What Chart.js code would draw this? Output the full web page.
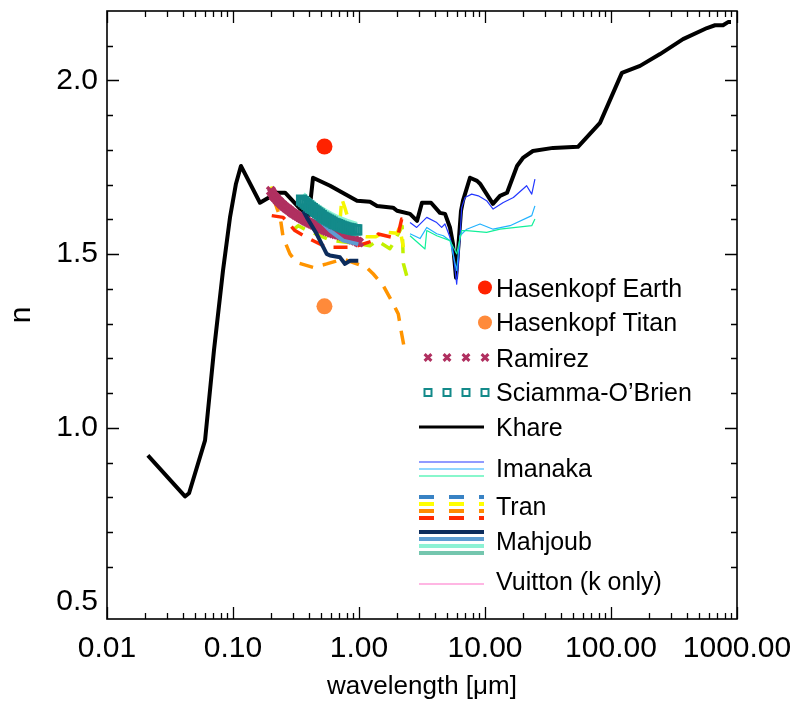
<!DOCTYPE html>
<html>
<head>
<meta charset="utf-8">
<script src="https://cdn.jsdelivr.net/npm/chart.js@4.4.1/dist/chart.umd.min.js"></script>
<style>
  html, body { margin: 0; padding: 0; background: #fff; }
  canvas { display: block; }
</style>
</head>
<body>
<canvas id="c" width="799" height="707"></canvas>
<script>
// ---- axis ticks ----
const xTicks = [0.01, 0.1, 1, 10, 100, 1000];
const xTickLabels = ['0.01', '0.10', '1.00', '10.00', '100.00', '1000.00'];
const yTicks = [0.5, 1.0, 1.5, 2.0];
const yTickLabels = ['0.5', '1.0', '1.5', '2.0'];

// ---- Khare ----
const khareWl = [0.0211,0.0416,0.0448,0.060,0.0706,0.0833,0.0946,0.1056,0.1156,0.1637,0.2235,0.259,0.340,0.401,0.4316,0.589,0.964,1.222,1.39,1.863,2.004,2.54,2.89,3.16,3.73,4.39,4.82,5.28,5.57,5.89,6.11,6.45,6.69,7.60,8.65,9.13,11.56,13.15,14.96,17.96,20.0,24.0,34.7,54.7,81.8,122,170,245,373,578,669,774,849,896];
const khareN  = [0.921,0.803,0.812,0.964,1.223,1.453,1.605,1.703,1.754,1.648,1.677,1.677,1.631,1.613,1.720,1.697,1.654,1.651,1.639,1.634,1.625,1.616,1.596,1.648,1.648,1.619,1.616,1.576,1.530,1.432,1.510,1.625,1.654,1.720,1.711,1.703,1.645,1.668,1.677,1.754,1.777,1.797,1.806,1.809,1.878,2.022,2.042,2.076,2.119,2.151,2.159,2.159,2.168,2.168];

// ---- Imanaka (three samples) ----
const imaBlueWl = [2.54,2.87,3.45,4.14,4.53,4.81,5.28,5.57,5.96,6.25,6.53,6.94,7.84,8.85,10.3,11.6,13.97,16.8,21.4,23.5,24.9];
const imaBlueN  = [1.591,1.577,1.606,1.591,1.577,1.587,1.548,1.510,1.414,1.510,1.634,1.663,1.673,1.668,1.654,1.630,1.649,1.663,1.697,1.673,1.716];
const imaSkyWl  = [2.54,3.05,3.45,4.14,4.67,5.28,5.96,6.33,7.16,9.13,11.6,15.8,23.5,24.9];
const imaSkyN   = [1.559,1.545,1.577,1.559,1.553,1.539,1.453,1.553,1.572,1.587,1.572,1.582,1.611,1.639];
const imaGreenWl = [2.54,3.34,3.45,4.14,5.28,5.96,6.53,7.16,10.3,13.15,23.5,24.9];
const imaGreenN  = [1.553,1.515,1.568,1.553,1.539,1.501,1.568,1.568,1.563,1.572,1.582,1.601];

// ---- Tran (dashed) ----
const tranRedWl = [0.203,0.25,0.31,0.385,0.55,0.625,0.90,1.30,1.42,1.87,2.05,2.18,2.39];
const tranRedN  = [1.611,1.606,1.568,1.548,1.520,1.520,1.520,1.539,1.558,1.548,1.558,1.601,1.587];
const tranOrangeWl = [0.21,0.237,0.25,0.283,0.32,0.434,0.554,0.75,0.90,1.15,1.30,1.56,1.87,2.05,2.18,2.32];
const tranOrangeN  = [1.660,1.606,1.548,1.501,1.476,1.462,1.472,1.486,1.476,1.462,1.443,1.409,1.357,1.328,1.271,1.218];
const tranYellowWl = [0.200,0.215,0.30,0.45,0.60,0.70,0.73,0.77,0.90,1.15,1.35,1.50,1.70,2.00,2.10,2.25];
const tranYellowN  = [1.695,1.660,1.615,1.585,1.565,1.575,1.660,1.635,1.555,1.550,1.550,1.558,1.563,1.560,1.577,1.520];
const tranLimeWl = [0.30,0.33,0.39,0.60,1.00,1.22,1.39,1.76,1.86,2.20,2.25,2.39];
const tranLimeN  = [1.570,1.582,1.568,1.540,1.530,1.524,1.539,1.516,1.530,1.580,1.473,1.438];

// ---- Mahjoub ----
const mahNavyWl = [0.361,0.385,0.462,0.554,0.589,0.707,0.774,0.848,0.987];
const mahNavyN  = [1.625,1.606,1.558,1.501,1.496,1.491,1.472,1.481,1.481];
const mahSteelWl = [0.373,0.462,0.589,0.750,0.987];
const mahSteelN  = [1.649,1.606,1.568,1.539,1.529];
const mahAquaWl = [0.36,0.40,0.46,0.53,0.60,0.70,0.80,0.96];
const mahAquaN  = [1.672,1.657,1.640,1.626,1.615,1.603,1.595,1.586];
const mahMedWl = [0.36,0.40,0.46,0.53,0.60,0.70,0.80,0.96];
const mahMedN  = [1.640,1.626,1.610,1.596,1.585,1.574,1.566,1.558];

// ---- Ramirez ----
const ramirezWl = [0.200,0.205,0.210,0.215,0.220,0.226,0.232,0.238,0.245,0.252,0.260,0.268,0.276,0.285,0.294,0.304,0.314,0.325,0.336,0.348,0.360,0.373,0.387,0.401,0.416,0.432,0.449,0.467,0.486,0.506,0.527,0.549,0.572,0.597,0.623,0.650,0.679,0.709,0.741,0.775,0.811,0.849,0.889,0.931,0.975,1.000];
const ramirezN  = [1.682,1.676,1.668,1.664,1.660,1.655,1.651,1.647,1.643,1.639,1.635,1.631,1.628,1.624,1.620,1.617,1.613,1.610,1.607,1.603,1.600,1.597,1.594,1.591,1.588,1.585,1.582,1.579,1.576,1.573,1.570,1.567,1.565,1.562,1.560,1.558,1.556,1.554,1.552,1.550,1.548,1.545,1.542,1.539,1.536,1.534];

// ---- Sciamma-O'Brien ----
const sciammaWl = [0.350,0.362,0.374,0.386,0.399,0.412,0.426,0.440,0.455,0.470,0.486,0.502,0.519,0.536,0.554,0.573,0.592,0.612,0.633,0.654,0.676,0.699,0.722,0.747,0.772,0.798,0.825,0.853,0.881,0.911,0.942,0.960];
const sciammaN  = [1.656,1.651,1.647,1.643,1.639,1.635,1.631,1.627,1.623,1.619,1.615,1.611,1.607,1.604,1.601,1.598,1.595,1.592,1.589,1.587,1.585,1.583,1.581,1.579,1.577,1.575,1.574,1.573,1.572,1.571,1.570,1.570];

// ---- Hasenkopf ----
const hasenkopfWl = [0.532];
const hasenkopfEarthN = [1.81];
const hasenkopfTitanN = [1.35];

// ---- legend entries ----
const legendNames = ['Hasenkopf Earth', 'Hasenkopf Titan', 'Ramirez', 'Sciamma-O\u2019Brien', 'Khare', 'Imanaka', 'Tran', 'Mahjoub', 'Vuitton (k only)'];

const FONT = '"Liberation Sans", Arial, Helvetica, sans-serif';
const pts = (xs, ys) => xs.map((x, i) => ({ x: x, y: ys[i] }));

const line = (xs, ys, color, width, order, dash) => ({
  data: pts(xs, ys), showLine: true, borderColor: color, borderWidth: width,
  pointRadius: 0, fill: false, tension: 0, borderDash: dash || [], order: order,
  borderJoinStyle: 'round', borderCapStyle: 'butt'
});

const datasets = [
  line(khareWl, khareN, '#000000', 4, 90),
  line(imaBlueWl, imaBlueN, '#2438ff', 1.2, 80),
  line(imaSkyWl, imaSkyN, '#22b2ff', 1.2, 79),
  line(imaGreenWl, imaGreenN, '#12f09a', 1.2, 78),
  line(tranLimeWl, tranLimeN, '#c2f000', 3.5, 70, [14, 10]),
  line(tranYellowWl, tranYellowN, '#f6f600', 3.5, 69, [14, 10]),
  line(tranOrangeWl, tranOrangeN, '#ff9400', 3.5, 68, [14, 10]),
  line(tranRedWl, tranRedN, '#ff2a00', 3.5, 67, [14, 10]),
  {
    data: pts(ramirezWl, ramirezN), showLine: false, pointStyle: 'crossRot',
    pointRadius: 5.5, borderWidth: 3.5, borderColor: '#b03060', backgroundColor: '#b03060', order: 60
  },
  line(mahMedWl, mahMedN, '#74c6ae', 5, 50),
  line(mahAquaWl, mahAquaN, '#8cf2d4', 5, 49),
  line(mahSteelWl, mahSteelN, '#5d9dd2', 4, 48),
  line(mahNavyWl, mahNavyN, '#0c2c5c', 4, 47),
  {
    data: pts(sciammaWl, sciammaN), showLine: false, pointStyle: 'rect',
    pointRadius: 6.4, borderWidth: 2.2, borderColor: '#138a8a', backgroundColor: 'rgba(0,0,0,0)', order: 40
  },
  {
    data: pts(hasenkopfWl, hasenkopfEarthN), showLine: false, pointStyle: 'circle',
    pointRadius: 8, borderWidth: 0, backgroundColor: '#ff2200', order: 10
  },
  {
    data: pts(hasenkopfWl, hasenkopfTitanN), showLine: false, pointStyle: 'circle',
    pointRadius: 8, borderWidth: 0, backgroundColor: '#ff8a3a', order: 11
  }
];

// frame with inward ticks on all four sides
const framePlugin = {
  id: 'frameTicks',
  afterDraw(chart) {
    const c = chart.ctx, a = chart.chartArea;
    const xs = chart.scales.x, ys = chart.scales.y;
    c.save();
    c.strokeStyle = '#000';
    c.lineWidth = 1.6;
    c.strokeRect(a.left, a.top, a.right - a.left, a.bottom - a.top);
    c.lineWidth = 1.3;
    c.beginPath();
    for (let d = -2; d <= 3; d++) {
      for (let k = 1; k <= 9; k++) {
        const v = k * Math.pow(10, d);
        if (v > 1000.0001) break;
        const px = Math.round(xs.getPixelForValue(v)) + 0.5;
        const len = k === 1 ? 12 : 6;
        c.moveTo(px, a.bottom); c.lineTo(px, a.bottom - len);
        c.moveTo(px, a.top); c.lineTo(px, a.top + len);
      }
    }
    for (let i = 6; i <= 21; i++) {
      const v = i / 10;
      const py = Math.round(ys.getPixelForValue(v)) + 0.5;
      const len = (i % 5 === 0) ? 12 : 6;
      c.moveTo(a.left, py); c.lineTo(a.left + len, py);
      c.moveTo(a.right, py); c.lineTo(a.right - len, py);
    }
    c.stroke();
    c.restore();
  }
};

// key drawn inside the plot area
const keyPlugin = {
  id: 'keyBox',
  afterDraw(chart) {
    const c = chart.ctx;
    const x0 = 419, x1 = 484, tx = 496;
    const bases = [297, 331, 367, 401, 436, 477, 515, 550, 590];
    c.save();
    c.fillStyle = '#000';
    c.font = '25px ' + FONT;
    c.textAlign = 'left';
    c.textBaseline = 'alphabetic';
    legendNames.forEach((t, i) => c.fillText(t, tx, bases[i]));

    // Hasenkopf dots
    [['#ff2200', 287.5], ['#ff8a3a', 322.5]].forEach(([col, y]) => {
      c.fillStyle = col; c.beginPath(); c.arc(485, y, 7, 0, Math.PI * 2); c.fill();
    });
    // Ramirez crosses
    c.strokeStyle = '#b03060'; c.lineWidth = 3;
    [428, 447, 466, 485].forEach(x => {
      const y = 357.5, r = 3.4;
      c.beginPath();
      c.moveTo(x - r, y - r); c.lineTo(x + r, y + r);
      c.moveTo(x + r, y - r); c.lineTo(x - r, y + r);
      c.stroke();
    });
    // Sciamma squares
    c.strokeStyle = '#138a8a'; c.lineWidth = 2;
    [428, 447, 466, 485].forEach(x => c.strokeRect(x - 3.5, 392.5 - 3.5, 7, 7));

    const seg = (y, col, w, dash) => {
      c.save();
      c.strokeStyle = col; c.lineWidth = w; c.setLineDash(dash || []);
      c.beginPath(); c.moveTo(x0, y); c.lineTo(x1, y); c.stroke();
      c.restore();
    };
    seg(427, '#000000', 3);
    seg(462, '#2438ff', 1.2); seg(469, '#22b2ff', 1.2); seg(476, '#12f09a', 1.2);
    seg(497, '#3882c4', 4, [15, 15]); seg(504, '#ffff00', 4, [15, 15]);
    seg(511, '#ff8c00', 4, [15, 15]); seg(518, '#ff2a00', 4, [15, 15]);
    seg(532, '#0c2c5c', 4); seg(539, '#5d9dd2', 4); seg(546, '#8cf2d4', 4); seg(553, '#74c6ae', 4);
    seg(584, '#ff6ec8', 1.2);
    c.restore();
  }
};

new Chart(document.getElementById('c'), {
  type: 'scatter',
  data: { datasets: datasets },
  options: {
    responsive: false,
    animation: false,
    devicePixelRatio: 1,
    layout: { padding: { left: 0, right: 62, top: 11, bottom: 0 } },
    plugins: { legend: { display: false }, tooltip: { enabled: false } },
    scales: {
      x: {
        type: 'logarithmic', min: 0.01, max: 1000, position: 'bottom',
        afterBuildTicks: s => { s.ticks = xTicks.map(v => ({ value: v })); },
        afterFit: s => { s.height = 88; s.paddingLeft = 0; s.paddingRight = 0; },
        grid: { display: false, drawTicks: false },
        border: { display: false },
        ticks: {
          autoSkip: false, maxRotation: 0, minRotation: 0, padding: 12, color: '#000',
          font: { family: FONT, size: 30 },
          callback: (v, i) => xTickLabels[i]
        },
        title: {
          display: true, text: 'wavelength [\u03bcm]', color: '#000',
          font: { family: FONT, size: 26, lineHeight: 1.2 }, padding: { top: 0, bottom: 5 }
        }
      },
      y: {
        type: 'linear', min: 0.45, max: 2.2, position: 'left',
        afterBuildTicks: s => { s.ticks = yTicks.map(v => ({ value: v })); },
        afterFit: s => { s.width = 107; s.paddingTop = 0; s.paddingBottom = 0; },
        grid: { display: false, drawTicks: false },
        border: { display: false },
        ticks: {
          padding: 9, color: '#000',
          font: { family: FONT, size: 30 },
          callback: (v, i) => yTickLabels[i]
        },
        title: {
          display: true, text: 'n', color: '#000',
          font: { family: FONT, size: 30, lineHeight: 1.2 }, padding: { top: 4, bottom: 0 }
        }
      }
    }
  },
  plugins: [framePlugin, keyPlugin]
});
</script>
</body>
</html>
